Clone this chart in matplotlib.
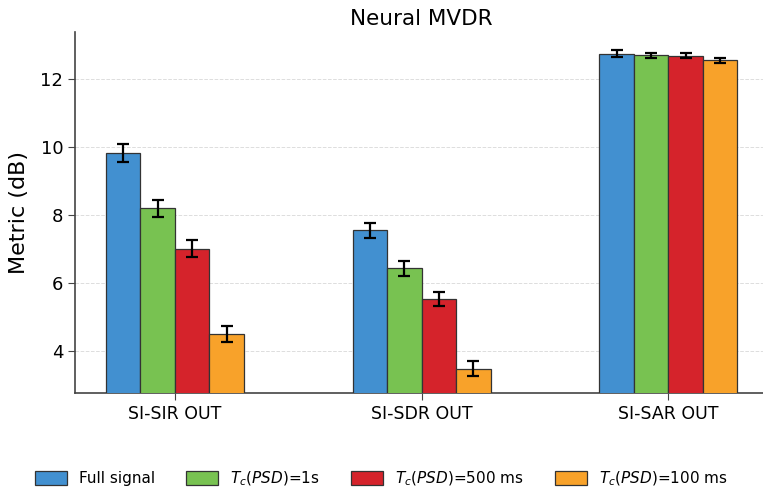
import matplotlib
matplotlib.use("Agg")
import matplotlib.pyplot as plt
import numpy as np

categories = ["SI-SIR OUT", "SI-SDR OUT", "SI-SAR OUT"]
series_labels = ["Full signal", r"$T_c(PSD)$=1s", r"$T_c(PSD)$=500 ms", r"$T_c(PSD)$=100 ms"]
full_signal = [9.82, 7.55, 12.74]
tc_1s = [8.20, 6.43, 12.70]
tc_500ms = [7.00, 5.53, 12.69]
tc_100ms = [4.50, 3.47, 12.55]
err_full = [0.27, 0.22, 0.10]
err_1s = [0.25, 0.22, 0.08]
err_500ms = [0.25, 0.20, 0.07]
err_100ms = [0.24, 0.22, 0.07]

values = [full_signal, tc_1s, tc_500ms, tc_100ms]
errors = [err_full, err_1s, err_500ms, err_100ms]
colors = ["#4290d0", "#78c251", "#d5232b", "#f8a22a"]

fig = plt.figure(figsize=(7.63, 4.91), dpi=100)
ax = fig.add_axes([0.0983, 0.1996, 0.907, 0.735])

x = np.arange(len(categories))
w = 0.14
for i, (vals, errs, c, lab) in enumerate(zip(values, errors, colors, series_labels)):
    ax.bar(x + (i - 1.5) * w, vals, w, yerr=errs, color=c, edgecolor="#333333",
           linewidth=0.9, label=lab, capsize=4,
           error_kw=dict(elinewidth=1.6, capthick=1.6, ecolor="black"), zorder=3)

ax.set_xlim(-0.405, 2.40)
ax.set_ylim(2.76, 13.38)
ax.set_yticks([4, 6, 8, 10, 12])
ax.set_xticks(x)
ax.set_xticklabels(categories, fontsize=12.5)
ax.tick_params(axis="y", labelsize=13)
ax.tick_params(axis="both", color="#444444", length=5)
ax.yaxis.grid(True, linestyle="--", color="#dddddd", linewidth=0.7, zorder=0)
ax.set_axisbelow(True)
for s in ["top", "right"]:
    ax.spines[s].set_visible(False)
for s in ["left", "bottom"]:
    ax.spines[s].set_color("#444444")
    ax.spines[s].set_linewidth(1.2)
ax.set_ylabel("Metric (dB)", fontsize=16, labelpad=8)
ax.set_title("Neural MVDR", fontsize=15.5, pad=5)

fig.legend(loc="lower center", bbox_to_anchor=(0.5, -0.022), ncol=4, frameon=False,
           fontsize=11, handlelength=2.1, handleheight=1.1, columnspacing=2.0)

fig.savefig("out.png", dpi=100)
